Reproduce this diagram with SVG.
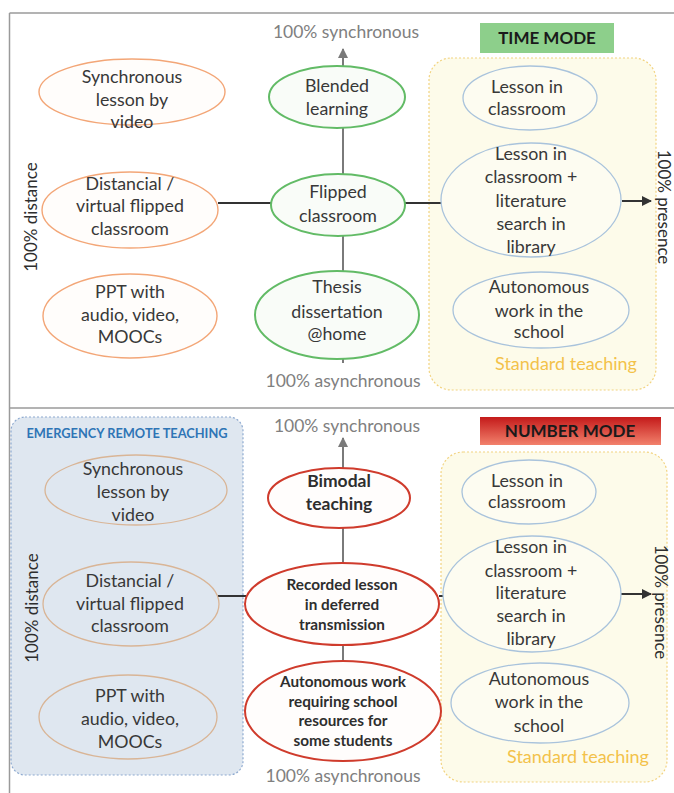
<svg xmlns="http://www.w3.org/2000/svg" width="674" height="793" viewBox="0 0 674 793">
<style>
text{font-family:Lato,"Liberation Sans",sans-serif;fill:#383838;text-anchor:middle}
.t{font-size:17.8px}
.tb{font-size:17.5px;font-weight:bold;fill:#2e2e2e}
.ts{font-size:15.3px;font-weight:bold;fill:#2e2e2e}
.ax{font-size:17.5px;fill:#808080}
.rot{font-size:17px;fill:#2e2e2e}
.orange{fill:#fffdfb;stroke:#f3a677;stroke-width:1.4}
.green{fill:#f9fcf8;stroke:#62bb66;stroke-width:2}
.blue{fill:#fdfcf1;stroke:#a9c3dc;stroke-width:1.3}
.tan{fill:none;stroke:#d9b596;stroke-width:1.3}
.red{fill:#fffdfc;stroke:#cf3b2c;stroke-width:2}
.std{fill:#fdfbea;stroke:#f2d380;stroke-width:1.2;stroke-dasharray:2 2}
.ert{fill:#dfe7f0;stroke:#8eaad0;stroke-width:1.2;stroke-dasharray:2 2}
.vline{stroke:#7a7a7a;stroke-width:2;fill:none}
.hline{stroke:#333;stroke-width:2;fill:none}
.frame{stroke:#9a9a9a;stroke-width:1.5;fill:none}
.mode{font-size:17px;font-weight:bold;fill:#1a1a1a}
.stdlbl{font-size:18px;fill:#f3c24a}
</style>
<defs>
<marker id="ag" viewBox="0 0 10 10" refX="9" refY="5" markerWidth="5" markerHeight="5" orient="auto"><path d="M0,0 L10,5 L0,10 z" fill="#7a7a7a"/></marker>
<marker id="ad" viewBox="0 0 10 10" refX="9" refY="5" markerWidth="5" markerHeight="5" orient="auto"><path d="M0,0 L10,5 L0,10 z" fill="#333"/></marker>
<linearGradient id="rg" x1="0" y1="0" x2="0" y2="1"><stop offset="0" stop-color="#c41a1a"/><stop offset="1" stop-color="#f2816c"/></linearGradient>
</defs>

<g id="frame">
<line class="frame" x1="9.5" y1="13" x2="674" y2="13"/>
<line class="frame" x1="9.5" y1="13" x2="9.5" y2="793"/>
<line class="frame" x1="9.5" y1="408" x2="674" y2="408"/>
</g>

<g id="standard-top"><rect class="std" x="429" y="58" width="227" height="332" rx="22"/><text class="stdlbl" x="566" y="370">Standard teaching</text></g>
<g id="standard-bottom"><rect class="std" x="441" y="452" width="226" height="330" rx="22"/><text class="stdlbl" x="578" y="763">Standard teaching</text></g>
<g id="ert"><rect class="ert" x="11" y="417" width="232" height="358" rx="14"/><text x="127" y="438" style="font-size:12.8px;font-weight:bold;fill:#2e75b6">EMERGENCY REMOTE TEACHING</text></g>

<g id="connectors">
<line class="vline" x1="343" y1="363" x2="343" y2="49" marker-end="url(#ag)"/>
<line class="hline" x1="218" y1="203" x2="271" y2="203"/>
<line class="hline" x1="405" y1="203" x2="443" y2="203"/>
<line class="hline" x1="622" y1="201" x2="651" y2="201" marker-end="url(#ad)"/>
<line class="vline" x1="343" y1="762" x2="343" y2="438" marker-end="url(#ag)"/>
<line class="hline" x1="218" y1="596" x2="246" y2="596"/>
<line class="hline" x1="439" y1="596" x2="443" y2="596"/>
<line class="hline" x1="621" y1="594" x2="651" y2="594" marker-end="url(#ad)"/>
</g>

<g id="axis-labels">
<text class="ax" x="346" y="38">100% synchronous</text>
<text class="ax" x="343" y="387">100% asynchronous</text>
<text class="rot" transform="translate(37,217) rotate(-90)">100% distance</text>
<text class="rot" transform="translate(658,207) rotate(90)">100% presence</text>
<text class="ax" x="347" y="432">100% synchronous</text>
<text class="ax" x="343" y="782">100% asynchronous</text>
<text class="rot" transform="translate(38,608) rotate(-90)">100% distance</text>
<text class="rot" transform="translate(655,602) rotate(90)">100% presence</text>
</g>

<g id="time-mode"><rect x="480" y="23" width="134" height="30" fill="#8dcf8b"/><text class="mode" x="547" y="44">TIME MODE</text></g>
<g id="number-mode"><rect x="480" y="417" width="181" height="28" fill="url(#rg)"/><text class="mode" x="570" y="437">NUMBER MODE</text></g>

<g id="t-sync"><ellipse class="orange" cx="132" cy="92" rx="93" ry="33"/><text class="t" x="132" y="83">Synchronous</text><text class="t" x="132" y="106">lesson by</text><text class="t" x="132" y="128">video</text></g>
<g id="t-distancial"><ellipse class="orange" cx="130" cy="210" rx="88" ry="38"/><text class="t" x="130" y="190">Distancial /</text><text class="t" x="130" y="212">virtual flipped</text><text class="t" x="130" y="235">classroom</text></g>
<g id="t-ppt"><ellipse class="orange" cx="130" cy="316" rx="87" ry="42"/><text class="t" x="130" y="298">PPT with</text><text class="t" x="130" y="321">audio, video,</text><text class="t" x="130" y="343">MOOCs</text></g>

<g id="t-blended"><ellipse class="green" cx="337" cy="97" rx="68" ry="31"/><text class="t" x="337" y="92">Blended</text><text class="t" x="337" y="115">learning</text></g>
<g id="t-flipped"><ellipse class="green" cx="338" cy="205" rx="67" ry="31"/><text class="t" x="338" y="198">Flipped</text><text class="t" x="338" y="222">classroom</text></g>
<g id="t-thesis"><ellipse class="green" cx="337" cy="315" rx="82" ry="44"/><text class="t" x="337" y="293">Thesis</text><text class="t" x="337" y="318">dissertation</text><text class="t" x="337" y="340">@home</text></g>

<g id="t-lesson"><ellipse class="blue" cx="530" cy="98" rx="67" ry="32"/><text class="t" x="527" y="93">Lesson in</text><text class="t" x="527" y="115">classroom</text></g>
<g id="t-library"><ellipse class="blue" cx="531" cy="200" rx="90" ry="57"/><text class="t" x="531" y="160">Lesson in</text><text class="t" x="531" y="183">classroom +</text><text class="t" x="531" y="207">literature</text><text class="t" x="531" y="230">search in</text><text class="t" x="531" y="253">library</text></g>
<g id="t-auto"><ellipse class="blue" cx="541" cy="310" rx="88" ry="38"/><text class="t" x="539" y="293">Autonomous</text><text class="t" x="539" y="317">work in the</text><text class="t" x="539" y="338">school</text></g>

<g id="b-sync"><ellipse class="tan" cx="136" cy="490" rx="91" ry="35"/><text class="t" x="133" y="475">Synchronous</text><text class="t" x="133" y="498">lesson by</text><text class="t" x="133" y="521">video</text></g>
<g id="b-distancial"><ellipse class="tan" cx="131" cy="604" rx="88" ry="42"/><text class="t" x="130" y="587">Distancial /</text><text class="t" x="130" y="610">virtual flipped</text><text class="t" x="130" y="632">classroom</text></g>
<g id="b-ppt"><ellipse class="tan" cx="128" cy="717" rx="89" ry="42"/><text class="t" x="130" y="702">PPT with</text><text class="t" x="130" y="725">audio, video,</text><text class="t" x="130" y="748">MOOCs</text></g>

<g id="b-bimodal"><ellipse class="red" cx="339" cy="498" rx="71" ry="30"/><text class="tb" x="339" y="487">Bimodal</text><text class="tb" x="339" y="510">teaching</text></g>
<g id="b-recorded"><ellipse class="red" cx="342" cy="604" rx="97" ry="41"/><text class="ts" x="342" y="590">Recorded lesson</text><text class="ts" x="342" y="610">in deferred</text><text class="ts" x="342" y="630">transmission</text></g>
<g id="b-autonomous"><ellipse class="red" cx="343" cy="711" rx="98" ry="50"/><text class="ts" x="343" y="687">Autonomous work</text><text class="ts" x="343" y="707">requiring school</text><text class="ts" x="343" y="726">resources for</text><text class="ts" x="343" y="746">some students</text></g>

<g id="b-lesson"><ellipse class="blue" cx="529" cy="492" rx="67" ry="32"/><text class="t" x="527" y="487">Lesson in</text><text class="t" x="527" y="508">classroom</text></g>
<g id="b-library"><ellipse class="blue" cx="532" cy="594" rx="89" ry="58"/><text class="t" x="531" y="553">Lesson in</text><text class="t" x="531" y="577">classroom +</text><text class="t" x="531" y="599">literature</text><text class="t" x="531" y="622">search in</text><text class="t" x="531" y="645">library</text></g>
<g id="b-auto"><ellipse class="blue" cx="540" cy="703" rx="89" ry="40"/><text class="t" x="539" y="685">Autonomous</text><text class="t" x="539" y="708">work in the</text><text class="t" x="539" y="732">school</text></g>
</svg>
